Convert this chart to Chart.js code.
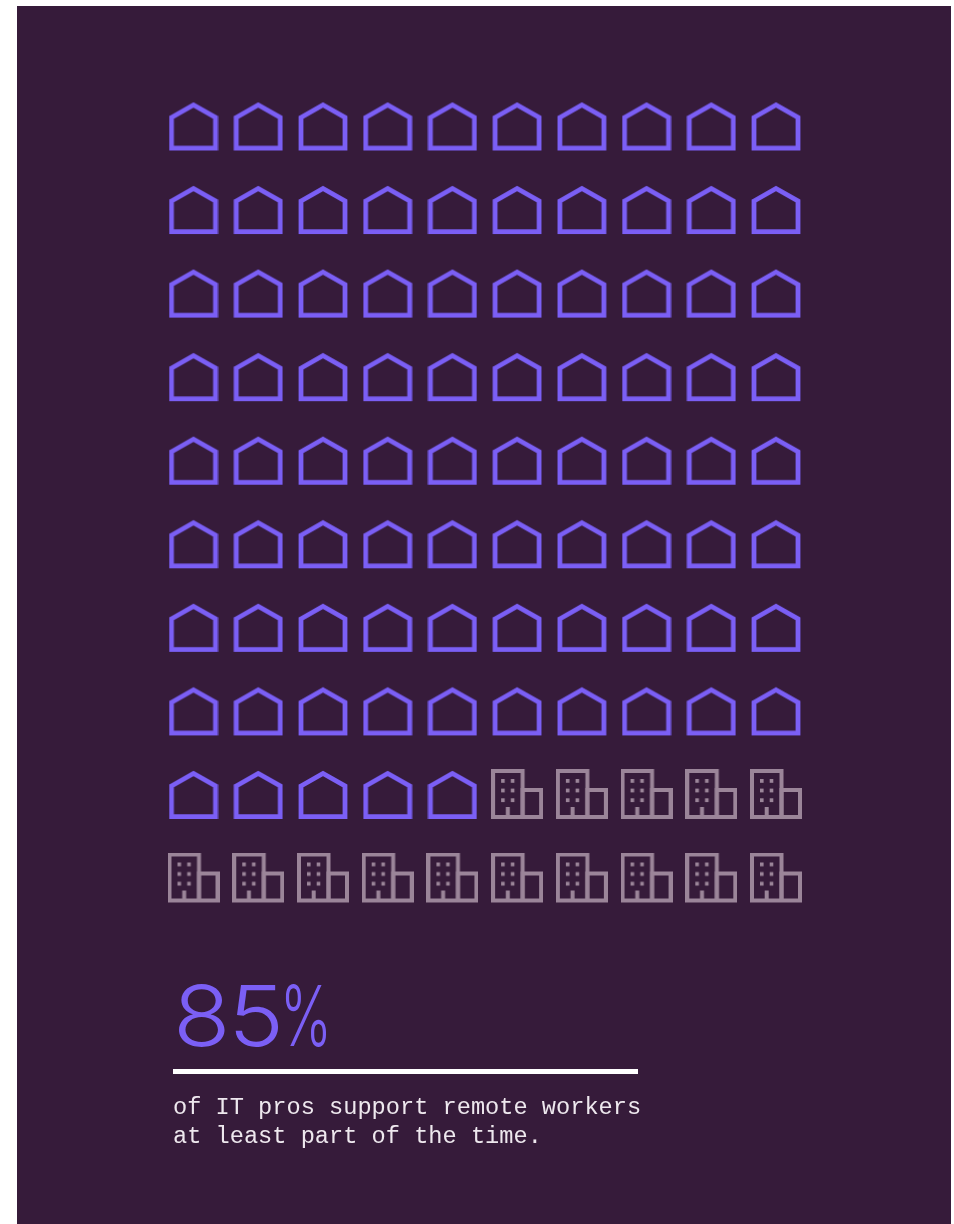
<!DOCTYPE html>
<html>
<head>
<meta charset="utf-8">
<title>Remote support</title>
<script src="https://cdn.jsdelivr.net/npm/chart.js@4"></script>
<style>
    html, body { margin: 0; background: #fff; }
    #page { position: relative; width: 954px; height: 1224px; overflow: hidden; }
    #panel { position: absolute; left: 17px; top: 6px; width: 934px; height: 1218px; background: #361b3a; }
    #iconChart { position: absolute; left: 0; top: 0; }
    #stat { position: absolute; left: 173px; top: 966px; color: #7b5ff5; font: 300 84px/100px Inter, sans-serif; white-space: nowrap; }
    #stat span { position: absolute; top: 0; transform-origin: left center; }
    #statValue { left: 0; letter-spacing: -2px; transform: scaleX(1.12); }
    #statUnit { left: 107px; transform: scaleX(0.66); }
    #rule { position: absolute; left: 173px; top: 1069px; width: 465px; height: 5px; background: #fff; }
    #note { position: absolute; left: 173px; top: 1093px; color: #eee8ee; font: 23.65px/29px "Liberation Mono", monospace; white-space: pre; }
</style>
</head>
<body>
<div id="page">
    <div id="panel"></div>
    <canvas id="iconChart" width="954" height="1224"></canvas>
    <div id="stat"><span id="statValue"></span><span id="statUnit">%</span></div>
    <div id="rule"></div>
    <div id="note"></div>
</div>
<script>
const categories = ['Remote', 'Office'];
const shares = [85, 15];
const columnLabels = [1, 2, 3, 4, 5, 6, 7, 8, 9, 10];
const rowLabels = [1, 2, 3, 4, 5, 6, 7, 8, 9, 10];
const noteLines = ['of IT pros support remote workers', 'at least part of the time.'];

const PURPLE = '#7b5ff5';
const GREY = '#9b8599';

function makeIcon(w, h, draw) {
    const c = document.createElement('canvas');
    c.width = w;
    c.height = h;
    draw(c.getContext('2d'));
    return c;
}

const houseIcon = makeIcon(50, 50, (ctx) => {
    ctx.strokeStyle = PURPLE;
    ctx.lineWidth = 4.8;
    ctx.lineJoin = 'miter';
    ctx.beginPath();
    ctx.moveTo(3, 16);
    ctx.lineTo(25, 3.4);
    ctx.lineTo(47, 16);
    ctx.lineTo(47, 46.6);
    ctx.lineTo(3, 46.6);
    ctx.closePath();
    ctx.stroke();
});

const officeIcon = makeIcon(52, 52, (ctx) => {
    ctx.strokeStyle = GREY;
    ctx.fillStyle = GREY;
    ctx.lineWidth = 4;
    ctx.strokeRect(2, 2, 29.5, 46);
    ctx.strokeRect(31.5, 21, 18.5, 27);
    // windows, two across and three down
    [10, 19.7].forEach((x) => {
        [10, 19.6, 29.3].forEach((y) => ctx.fillRect(x, y, 3.6, 3.8));
    });
    ctx.fillRect(14.7, 38, 4, 9);
});

// fill the grid row by row, one icon per percentage point
const points = [];
categories.forEach((name, k) => {
    const before = shares.slice(0, k).reduce((a, b) => a + b, 0);
    points[k] = [];
    for (let i = before; i < before + shares[k]; i++) {
        points[k].push({
            x: columnLabels[i % columnLabels.length],
            y: rowLabels[Math.floor(i / columnLabels.length)]
        });
    }
});

new Chart(document.getElementById('iconChart'), {
    type: 'scatter',
    data: {
        datasets: [
            { label: categories[0], data: points[0], pointStyle: houseIcon, pointRadius: 24, clip: false },
            { label: categories[1], data: points[1], pointStyle: officeIcon, pointRadius: 24, clip: false }
        ]
    },
    options: {
        responsive: false,
        animation: false,
        layout: { padding: { left: 193.5, right: 178, top: 126.5, bottom: 345.5 } },
        plugins: { legend: { display: false }, tooltip: { enabled: false } },
        scales: {
            x: { type: 'linear', display: false, min: 1, max: 10 },
            y: { type: 'linear', display: false, min: 1, max: 10, reverse: true }
        }
    }
});

document.getElementById('statValue').textContent = shares[0];
document.getElementById('note').textContent = noteLines.join('\n');
</script>
</body>
</html>
